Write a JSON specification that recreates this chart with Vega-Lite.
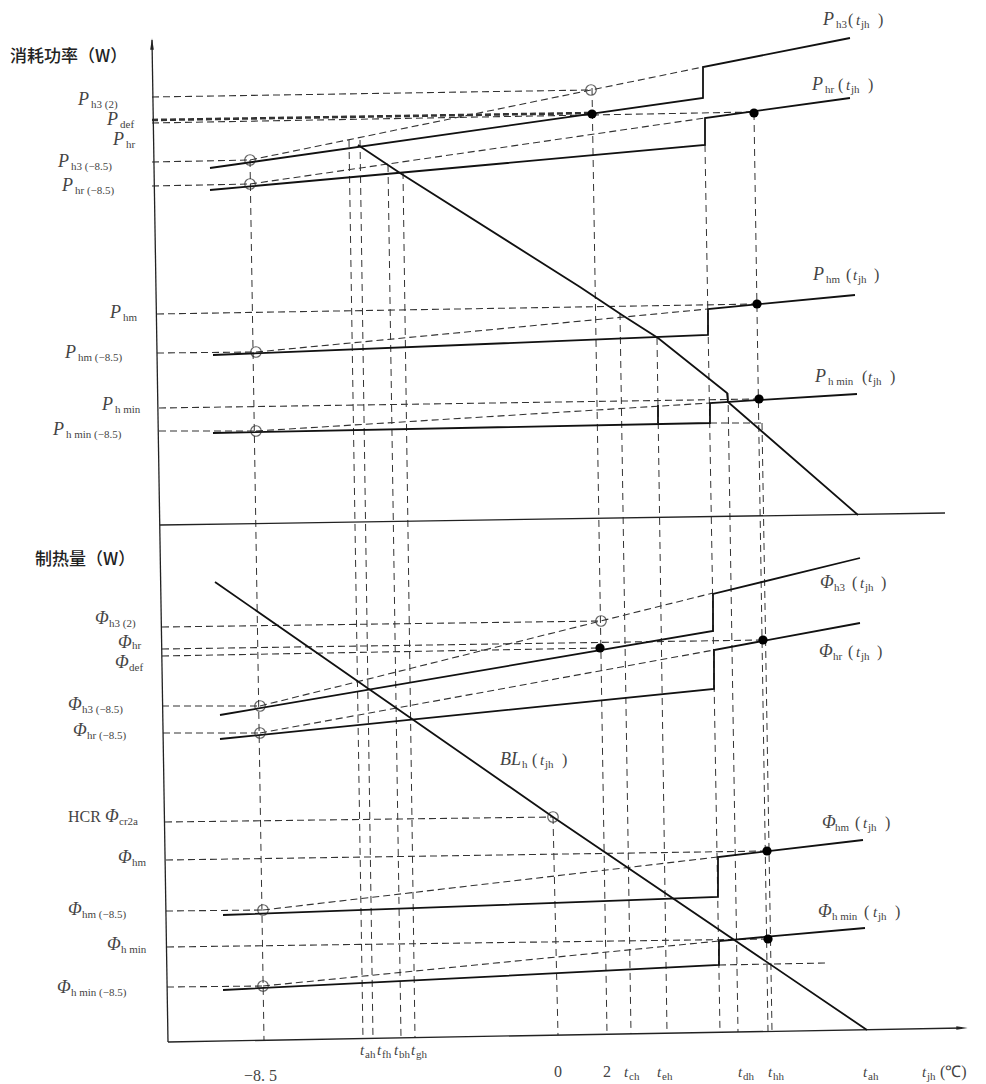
{
"$schema":"https://vega.github.io/schema/vega-lite/v6.json",
"width":986,"height":1084,"padding":0,"autosize":{"type":"none"},"background":"white",
"config":{"view":{"stroke":null}},
"datasets":{
"segs":[
{"id":"yax","o":0,"x":152,"y":40,"s":"a"},{"id":"yax","o":1,"x":168,"y":1042,"s":"a"},
{"id":"mid","o":0,"x":160,"y":525,"s":"a"},{"id":"mid","o":1,"x":945,"y":513,"s":"a"},
{"id":"xax","o":0,"x":168,"y":1042,"s":"a"},{"id":"xax","o":1,"x":962,"y":1028,"s":"a"},
{"id":"A","o":0,"x":210,"y":168,"s":"s"},{"id":"A","o":1,"x":703,"y":98,"s":"s"},{"id":"A","o":2,"x":703,"y":67,"s":"s"},{"id":"A","o":3,"x":850,"y":38,"s":"s"},
{"id":"B","o":0,"x":210,"y":190,"s":"s"},{"id":"B","o":1,"x":705,"y":145,"s":"s"},{"id":"B","o":2,"x":705,"y":118,"s":"s"},{"id":"B","o":3,"x":850,"y":98,"s":"s"},
{"id":"C","o":0,"x":213,"y":355,"s":"s"},{"id":"C","o":1,"x":708,"y":335,"s":"s"},{"id":"C","o":2,"x":708,"y":309,"s":"s"},{"id":"C","o":3,"x":855,"y":295,"s":"s"},
{"id":"D","o":0,"x":213,"y":433,"s":"s"},{"id":"D","o":1,"x":710,"y":423,"s":"s"},{"id":"D","o":2,"x":710,"y":403,"s":"s"},{"id":"D","o":3,"x":857,"y":394,"s":"s"},
{"id":"T","o":0,"x":358,"y":145,"s":"s"},{"id":"T","o":1,"x":400,"y":173,"s":"s"},{"id":"T","o":2,"x":580,"y":287,"s":"s"},{"id":"T","o":3,"x":622,"y":315,"s":"s"},{"id":"T","o":4,"x":658,"y":338,"s":"s"},{"id":"T","o":5,"x":727,"y":393,"s":"s"},{"id":"T","o":6,"x":728,"y":402,"s":"s"},{"id":"T","o":7,"x":858,"y":515,"s":"s"},
{"id":"S1","o":0,"x":658,"y":405,"s":"s"},{"id":"S1","o":1,"x":658,"y":423,"s":"s"},
{"id":"E","o":0,"x":220,"y":715,"s":"s"},{"id":"E","o":1,"x":713,"y":631,"s":"s"},{"id":"E","o":2,"x":713,"y":594,"s":"s"},{"id":"E","o":3,"x":860,"y":558,"s":"s"},
{"id":"F","o":0,"x":220,"y":739,"s":"s"},{"id":"F","o":1,"x":714,"y":689,"s":"s"},{"id":"F","o":2,"x":714,"y":650,"s":"s"},{"id":"F","o":3,"x":860,"y":623,"s":"s"},
{"id":"G","o":0,"x":223,"y":915,"s":"s"},{"id":"G","o":1,"x":718,"y":897,"s":"s"},{"id":"G","o":2,"x":718,"y":857,"s":"s"},{"id":"G","o":3,"x":863,"y":840,"s":"s"},
{"id":"H","o":0,"x":223,"y":990,"s":"s"},{"id":"H","o":1,"x":719,"y":965,"s":"s"},{"id":"H","o":2,"x":719,"y":941,"s":"s"},{"id":"H","o":3,"x":865,"y":928,"s":"s"},
{"id":"BL","o":0,"x":215,"y":582,"s":"s"},{"id":"BL","o":1,"x":553,"y":817,"s":"s"},{"id":"BL","o":2,"x":867,"y":1030,"s":"s"},
{"id":"d1","o":0,"x":152,"y":97,"s":"d"},{"id":"d1","o":1,"x":591,"y":90,"s":"d"},
{"id":"d2","o":0,"x":152,"y":120,"s":"h"},{"id":"d2","o":1,"x":592,"y":113,"s":"h"},
{"id":"d3","o":0,"x":152,"y":123,"s":"d"},{"id":"d3","o":1,"x":754,"y":112,"s":"d"},
{"id":"d4","o":0,"x":152,"y":162,"s":"d"},{"id":"d4","o":1,"x":250,"y":160,"s":"d"},
{"id":"d5","o":0,"x":152,"y":186,"s":"d"},{"id":"d5","o":1,"x":250,"y":184,"s":"d"},
{"id":"d6","o":0,"x":157,"y":314,"s":"d"},{"id":"d6","o":1,"x":757,"y":304,"s":"d"},
{"id":"d7","o":0,"x":157,"y":353,"s":"d"},{"id":"d7","o":1,"x":256,"y":352,"s":"d"},
{"id":"d8","o":0,"x":159,"y":408,"s":"d"},{"id":"d8","o":1,"x":759,"y":399,"s":"d"},
{"id":"d9","o":0,"x":159,"y":431,"s":"d"},{"id":"d9","o":1,"x":256,"y":431,"s":"d"},
{"id":"e1","o":0,"x":250,"y":160,"s":"d"},{"id":"e1","o":1,"x":703,"y":67,"s":"d"},
{"id":"e2","o":0,"x":250,"y":184,"s":"d"},{"id":"e2","o":1,"x":705,"y":118,"s":"d"},
{"id":"e3","o":0,"x":256,"y":352,"s":"d"},{"id":"e3","o":1,"x":708,"y":309,"s":"d"},
{"id":"e4","o":0,"x":256,"y":431,"s":"d"},{"id":"e4","o":1,"x":710,"y":403,"s":"d"},
{"id":"e5","o":0,"x":710,"y":423,"s":"d"},{"id":"e5","o":1,"x":763,"y":423,"s":"d"},
{"id":"b1","o":0,"x":162,"y":627,"s":"d"},{"id":"b1","o":1,"x":601,"y":621,"s":"d"},
{"id":"b2","o":0,"x":162,"y":649,"s":"d"},{"id":"b2","o":1,"x":763,"y":640,"s":"d"},
{"id":"b3","o":0,"x":162,"y":656,"s":"d"},{"id":"b3","o":1,"x":600,"y":648,"s":"d"},
{"id":"b4","o":0,"x":162,"y":706,"s":"d"},{"id":"b4","o":1,"x":260,"y":706,"s":"d"},
{"id":"b5","o":0,"x":163,"y":733,"s":"d"},{"id":"b5","o":1,"x":260,"y":733,"s":"d"},
{"id":"b6","o":0,"x":165,"y":822,"s":"d"},{"id":"b6","o":1,"x":553,"y":817,"s":"d"},
{"id":"b7","o":0,"x":166,"y":860,"s":"d"},{"id":"b7","o":1,"x":767,"y":851,"s":"d"},
{"id":"b8","o":0,"x":166,"y":911,"s":"d"},{"id":"b8","o":1,"x":263,"y":910,"s":"d"},
{"id":"b9","o":0,"x":167,"y":947,"s":"d"},{"id":"b9","o":1,"x":768,"y":939,"s":"d"},
{"id":"b10","o":0,"x":167,"y":987,"s":"d"},{"id":"b10","o":1,"x":263,"y":986,"s":"d"},
{"id":"f1","o":0,"x":260,"y":706,"s":"d"},{"id":"f1","o":1,"x":713,"y":593,"s":"d"},
{"id":"f2","o":0,"x":260,"y":733,"s":"d"},{"id":"f2","o":1,"x":714,"y":650,"s":"d"},
{"id":"f3","o":0,"x":263,"y":910,"s":"d"},{"id":"f3","o":1,"x":718,"y":857,"s":"d"},
{"id":"f4","o":0,"x":263,"y":986,"s":"d"},{"id":"f4","o":1,"x":719,"y":941,"s":"d"},
{"id":"f5","o":0,"x":719,"y":965,"s":"d"},{"id":"f5","o":1,"x":827,"y":963,"s":"d"},
{"id":"v1","o":0,"x":250,"y":160,"s":"v"},{"id":"v1","o":1,"x":264,"y":1040,"s":"v"},
{"id":"v2","o":0,"x":349,"y":140,"s":"v"},{"id":"v2","o":1,"x":363,"y":1039,"s":"v"},
{"id":"v3","o":0,"x":360,"y":140,"s":"v"},{"id":"v3","o":1,"x":373,"y":1039,"s":"v"},
{"id":"v4","o":0,"x":388,"y":165,"s":"v"},{"id":"v4","o":1,"x":401,"y":1038,"s":"v"},
{"id":"v5","o":0,"x":403,"y":172,"s":"v"},{"id":"v5","o":1,"x":415,"y":1038,"s":"v"},
{"id":"v6","o":0,"x":553,"y":817,"s":"v"},{"id":"v6","o":1,"x":558,"y":1035,"s":"v"},
{"id":"v7","o":0,"x":592,"y":88,"s":"v"},{"id":"v7","o":1,"x":607,"y":1034,"s":"v"},
{"id":"v8","o":0,"x":620,"y":313,"s":"v"},{"id":"v8","o":1,"x":631,"y":1034,"s":"v"},
{"id":"v9","o":0,"x":657,"y":338,"s":"v"},{"id":"v9","o":1,"x":667,"y":1033,"s":"v"},
{"id":"v10","o":0,"x":705,"y":145,"s":"v"},{"id":"v10","o":1,"x":720,"y":1032,"s":"v"},
{"id":"v11","o":0,"x":728,"y":393,"s":"v"},{"id":"v11","o":1,"x":738,"y":1032,"s":"v"},
{"id":"v12","o":0,"x":754,"y":113,"s":"v"},{"id":"v12","o":1,"x":768,"y":1031,"s":"v"},
{"id":"v13","o":0,"x":762,"y":423,"s":"v"},{"id":"v13","o":1,"x":772,"y":1031,"s":"v"}
],
"pts":[
{"x":250,"y":160,"f":"n"},{"x":250,"y":184,"f":"n"},{"x":591,"y":90,"f":"n"},{"x":256,"y":352,"f":"n"},{"x":256,"y":431,"f":"n"},
{"x":260,"y":706,"f":"n"},{"x":260,"y":733,"f":"n"},{"x":601,"y":621,"f":"n"},{"x":553,"y":817,"f":"n"},{"x":263,"y":910,"f":"n"},{"x":263,"y":986,"f":"n"},
{"x":592,"y":114,"f":"y"},{"x":754,"y":113,"f":"y"},{"x":757,"y":304,"f":"y"},{"x":759,"y":399,"f":"y"},
{"x":600,"y":648,"f":"y"},{"x":763,"y":640,"f":"y"},{"x":767,"y":851,"f":"y"},{"x":768,"y":939,"f":"y"}
],
"arrows":[
{"x":152,"y":44,"sh":"M0,-1L0.32,1L-0.32,1Z"},
{"x":962,"y":1028,"sh":"M1,0L-1,0.32L-1,-0.32Z"}
],
"labels":[
{"x":10,"y":57,"t":"消耗功率（W）","k":"c"},
{"x":35,"y":560,"t":"制热量（W）","k":"c"},
{"x":78,"y":100,"t":"P","k":"m"},{"x":91,"y":100,"t":"h3 (2)","k":"s"},
{"x":107,"y":120,"t":"P","k":"m"},{"x":120,"y":120,"t":"def","k":"s"},
{"x":113,"y":140,"t":"P","k":"m"},{"x":126,"y":140,"t":"hr","k":"s"},
{"x":58,"y":162,"t":"P","k":"m"},{"x":71,"y":162,"t":"h3 (−8.5)","k":"s"},
{"x":62,"y":186,"t":"P","k":"m"},{"x":75,"y":186,"t":"hr (−8.5)","k":"s"},
{"x":110,"y":313,"t":"P","k":"m"},{"x":123,"y":313,"t":"hm","k":"s"},
{"x":65,"y":353,"t":"P","k":"m"},{"x":78,"y":353,"t":"hm (−8.5)","k":"s"},
{"x":102,"y":405,"t":"P","k":"m"},{"x":115,"y":405,"t":"h min","k":"s"},
{"x":53,"y":430,"t":"P","k":"m"},{"x":66,"y":430,"t":"h min (−8.5)","k":"s"},
{"x":95,"y":619,"t":"Φ","k":"m"},{"x":109,"y":619,"t":"h3 (2)","k":"s"},
{"x":118,"y":643,"t":"Φ","k":"m"},{"x":132,"y":641,"t":"hr","k":"s"},
{"x":115,"y":663,"t":"Φ","k":"m"},{"x":129,"y":663,"t":"def","k":"s"},
{"x":68,"y":705,"t":"Φ","k":"m"},{"x":82,"y":705,"t":"h3 (−8.5)","k":"s"},
{"x":73,"y":731,"t":"Φ","k":"m"},{"x":87,"y":731,"t":"hr (−8.5)","k":"s"},
{"x":68,"y":817,"t":"HCR","k":"n"},{"x":105,"y":817,"t":"Φ","k":"m"},{"x":119,"y":817,"t":"cr2a","k":"s"},
{"x":118,"y":858,"t":"Φ","k":"m"},{"x":132,"y":858,"t":"hm","k":"s"},
{"x":68,"y":910,"t":"Φ","k":"m"},{"x":82,"y":910,"t":"hm (−8.5)","k":"s"},
{"x":107,"y":945,"t":"Φ","k":"m"},{"x":121,"y":945,"t":"h min","k":"s"},
{"x":57,"y":988,"t":"Φ","k":"m"},{"x":71,"y":988,"t":"h min (−8.5)","k":"s"},
{"x":823,"y":20,"t":"P","k":"m"},{"x":836,"y":20,"t":"h3","k":"s"},{"x":848,"y":20,"t":"(","k":"n"},{"x":856,"y":20,"t":"t","k":"i"},{"x":861,"y":20,"t":"jh","k":"s"},{"x":878,"y":20,"t":")","k":"n"},
{"x":812,"y":85,"t":"P","k":"m"},{"x":825,"y":85,"t":"hr","k":"s"},{"x":838,"y":85,"t":"(","k":"n"},{"x":846,"y":85,"t":"t","k":"i"},{"x":851,"y":85,"t":"jh","k":"s"},{"x":868,"y":85,"t":")","k":"n"},
{"x":813,"y":275,"t":"P","k":"m"},{"x":826,"y":275,"t":"hm","k":"s"},{"x":846,"y":275,"t":"(","k":"n"},{"x":853,"y":275,"t":"t","k":"i"},{"x":858,"y":275,"t":"jh","k":"s"},{"x":874,"y":275,"t":")","k":"n"},
{"x":815,"y":377,"t":"P","k":"m"},{"x":828,"y":377,"t":"h min","k":"s"},{"x":862,"y":377,"t":"(","k":"n"},{"x":868,"y":377,"t":"t","k":"i"},{"x":873,"y":377,"t":"jh","k":"s"},{"x":890,"y":377,"t":")","k":"n"},
{"x":820,"y":583,"t":"Φ","k":"m"},{"x":834,"y":583,"t":"h3","k":"s"},{"x":852,"y":583,"t":"(","k":"n"},{"x":860,"y":583,"t":"t","k":"i"},{"x":865,"y":583,"t":"jh","k":"s"},{"x":881,"y":583,"t":")","k":"n"},
{"x":819,"y":652,"t":"Φ","k":"m"},{"x":833,"y":652,"t":"hr","k":"s"},{"x":848,"y":652,"t":"(","k":"n"},{"x":856,"y":652,"t":"t","k":"i"},{"x":861,"y":652,"t":"jh","k":"s"},{"x":877,"y":652,"t":")","k":"n"},
{"x":822,"y":823,"t":"Φ","k":"m"},{"x":835,"y":823,"t":"hm","k":"s"},{"x":855,"y":823,"t":"(","k":"n"},{"x":863,"y":823,"t":"t","k":"i"},{"x":868,"y":823,"t":"jh","k":"s"},{"x":885,"y":823,"t":")","k":"n"},
{"x":818,"y":912,"t":"Φ","k":"m"},{"x":832,"y":912,"t":"h min","k":"s"},{"x":864,"y":912,"t":"(","k":"n"},{"x":873,"y":912,"t":"t","k":"i"},{"x":878,"y":912,"t":"jh","k":"s"},{"x":895,"y":912,"t":")","k":"n"},
{"x":500,"y":760,"t":"BL","k":"m"},{"x":522,"y":760,"t":"h","k":"s"},{"x":532,"y":760,"t":"(","k":"n"},{"x":540,"y":760,"t":"t","k":"i"},{"x":545,"y":760,"t":"jh","k":"s"},{"x":562,"y":760,"t":")","k":"n"},
{"x":360,"y":1050,"t":"t","k":"i"},{"x":365,"y":1050,"t":"ah","k":"s"},
{"x":377,"y":1050,"t":"t","k":"i"},{"x":382,"y":1050,"t":"fh","k":"s"},
{"x":394,"y":1050,"t":"t","k":"i"},{"x":399,"y":1050,"t":"bh","k":"s"},
{"x":411,"y":1050,"t":"t","k":"i"},{"x":416,"y":1050,"t":"gh","k":"s"},
{"x":244,"y":1076,"t":"−8. 5","k":"n"},
{"x":554,"y":1072,"t":"0","k":"n"},
{"x":603,"y":1072,"t":"2","k":"n"},
{"x":624,"y":1072,"t":"t","k":"i"},{"x":629,"y":1072,"t":"ch","k":"s"},
{"x":657,"y":1072,"t":"t","k":"i"},{"x":662,"y":1072,"t":"eh","k":"s"},
{"x":738,"y":1072,"t":"t","k":"i"},{"x":743,"y":1072,"t":"dh","k":"s"},
{"x":768,"y":1072,"t":"t","k":"i"},{"x":773,"y":1072,"t":"hh","k":"s"},
{"x":863,"y":1072,"t":"t","k":"i"},{"x":868,"y":1072,"t":"ah","k":"s"},
{"x":922,"y":1072,"t":"t","k":"i"},{"x":927,"y":1072,"t":"jh","k":"s"},{"x":940,"y":1072,"t":"(℃)","k":"n"}
]
},
"encoding":{
"x":{"field":"x","type":"quantitative","scale":{"domain":[0,986],"nice":false,"zero":false},"axis":null},
"y":{"field":"y","type":"quantitative","scale":{"domain":[0,1084],"reverse":true,"nice":false,"zero":false},"axis":null}
},
"layer":[
{"data":{"name":"segs"},"transform":[{"filter":"datum.s==='v'"}],"mark":{"type":"line","color":"#333","strokeWidth":1,"strokeDash":[7,5]},"encoding":{"detail":{"field":"id"},"order":{"field":"o"}}},
{"data":{"name":"segs"},"transform":[{"filter":"datum.s==='d'"}],"mark":{"type":"line","color":"#333","strokeWidth":1.1,"strokeDash":[7,4]},"encoding":{"detail":{"field":"id"},"order":{"field":"o"}}},
{"data":{"name":"segs"},"transform":[{"filter":"datum.s==='h'"}],"mark":{"type":"line","color":"#333","strokeWidth":2.6,"strokeDash":[6,3]},"encoding":{"detail":{"field":"id"},"order":{"field":"o"}}},
{"data":{"name":"segs"},"transform":[{"filter":"datum.s==='a'"}],"mark":{"type":"line","color":"#222","strokeWidth":1.3},"encoding":{"detail":{"field":"id"},"order":{"field":"o"}}},
{"data":{"name":"segs"},"transform":[{"filter":"datum.s==='s'"}],"mark":{"type":"line","color":"#111","strokeWidth":1.8},"encoding":{"detail":{"field":"id"},"order":{"field":"o"}}},
{"data":{"name":"pts"},"transform":[{"filter":"datum.f==='n'"}],"mark":{"type":"point","shape":"circle","filled":false,"stroke":"#222","strokeWidth":1.2,"size":110}},
{"data":{"name":"pts"},"transform":[{"filter":"datum.f==='y'"}],"mark":{"type":"point","shape":"circle","filled":true,"color":"#000","size":85,"opacity":1}},
{"data":{"name":"arrows"},"mark":{"type":"point","filled":true,"color":"#222","size":130,"opacity":1},"encoding":{"shape":{"field":"sh","type":"nominal","scale":null}}},
{"data":{"name":"labels"},"transform":[{"filter":"datum.k==='c'"}],"mark":{"type":"text","align":"left","baseline":"middle","font":"Noto Sans CJK SC","fontSize":17,"fontWeight":500,"color":"#222"},"encoding":{"text":{"field":"t"}}},
{"data":{"name":"labels"},"transform":[{"filter":"datum.k==='m'"}],"mark":{"type":"text","align":"left","baseline":"middle","font":"Liberation Serif","fontStyle":"italic","fontSize":18,"color":"#444"},"encoding":{"text":{"field":"t"}}},
{"data":{"name":"labels"},"transform":[{"filter":"datum.k==='s'"}],"mark":{"type":"text","align":"left","baseline":"middle","dy":5,"font":"Liberation Serif","fontSize":11,"color":"#444"},"encoding":{"text":{"field":"t"}}},
{"data":{"name":"labels"},"transform":[{"filter":"datum.k==='n'"}],"mark":{"type":"text","align":"left","baseline":"middle","font":"Liberation Serif","fontSize":16,"color":"#444"},"encoding":{"text":{"field":"t"}}},
{"data":{"name":"labels"},"transform":[{"filter":"datum.k==='i'"}],"mark":{"type":"text","align":"left","baseline":"middle","font":"Liberation Serif","fontStyle":"italic","fontSize":15,"color":"#444"},"encoding":{"text":{"field":"t"}}}
]
}
